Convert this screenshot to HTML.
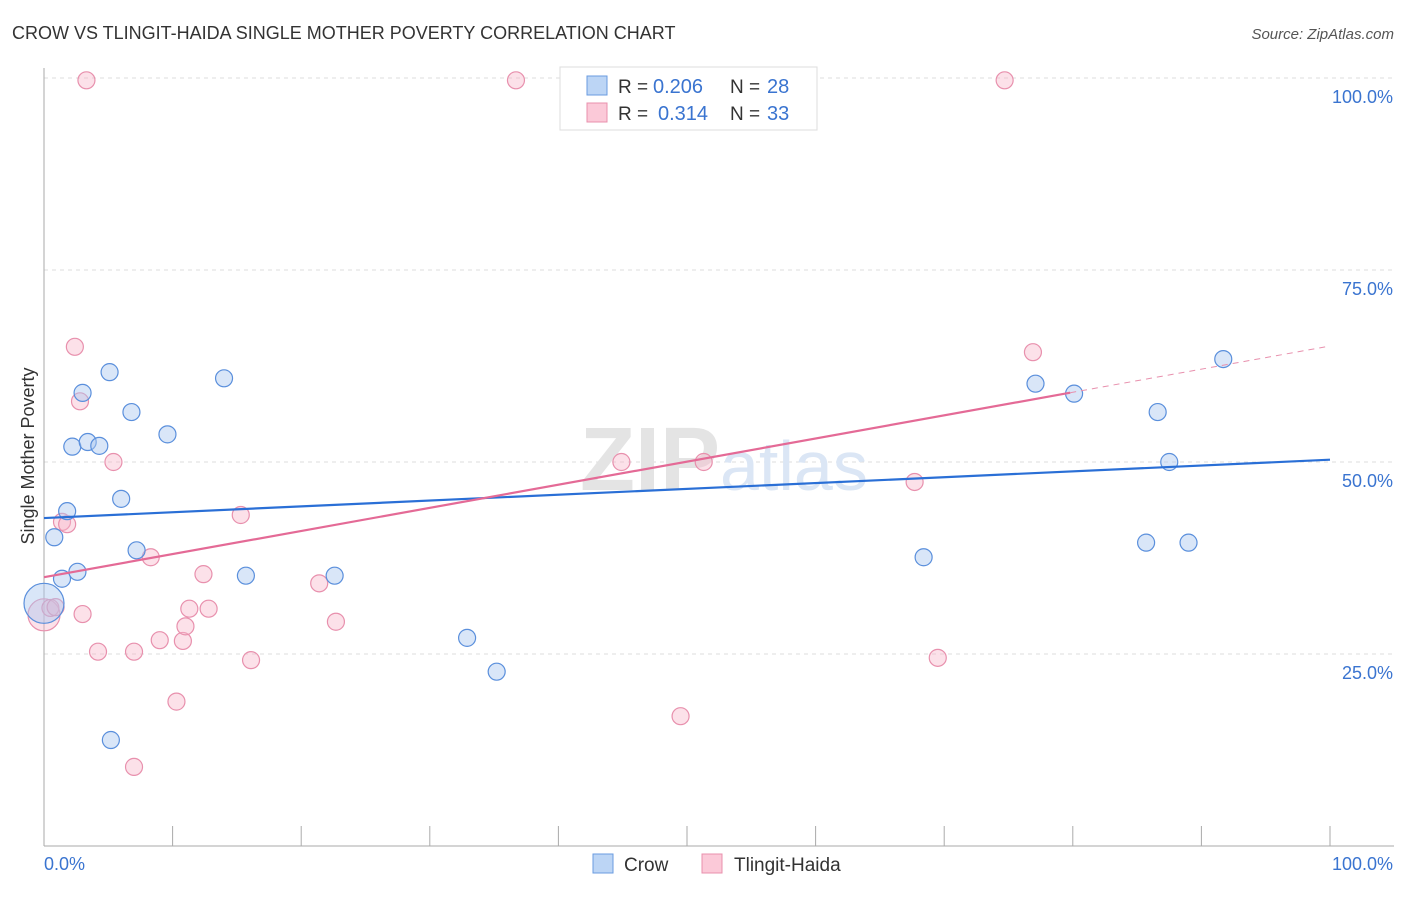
<!DOCTYPE html>
<html><head><meta charset="utf-8"><style>
body{margin:0;background:#fff;font-family:"Liberation Sans",sans-serif;}
svg text{font-family:"Liberation Sans",sans-serif;}
</style></head><body>
<svg id="chart" width="1406" height="892" xmlns="http://www.w3.org/2000/svg">
<text x="12" y="39" font-size="18" fill="#333">CROW VS TLINGIT-HAIDA SINGLE MOTHER POVERTY CORRELATION CHART</text>
<text x="1394" y="39" font-size="15" fill="#555" text-anchor="end" font-style="italic">Source: ZipAtlas.com</text>
<g id="grid"></g>
<text x="720" y="490" font-size="90" fill="#e4e4e4" text-anchor="end" font-family="Liberation Serif" font-weight="bold">ZIP</text>
<text x="720" y="490" font-size="70" fill="#dbe6f5">atlas</text>
<g id="points"></g>
<g id="lines"></g>
<text transform="translate(34,456) rotate(-90)" font-size="18" fill="#333" text-anchor="middle">Single Mother Poverty</text>
<g>
<rect x="560" y="67" width="257" height="63" fill="#fff" stroke="#ddd"/>
<rect x="587" y="76" width="20" height="19" fill="#bcd5f5" stroke="#6a9be0"/>
<rect x="587" y="103" width="20" height="19" fill="#fbc9d8" stroke="#e890ad"/>
<text x="618" y="93" font-size="19" fill="#333">R =</text>
<text x="653" y="93" font-size="20" fill="#3a74d0">0.206</text>
<text x="730" y="93" font-size="19" fill="#333">N =</text>
<text x="767" y="93" font-size="20" fill="#3a74d0">28</text>
<text x="618" y="120" font-size="19" fill="#333">R =</text>
<text x="658" y="120" font-size="20" fill="#3a74d0">0.314</text>
<text x="730" y="120" font-size="19" fill="#333">N =</text>
<text x="767" y="120" font-size="20" fill="#3a74d0">33</text>
</g>
<g>
<rect x="593" y="854" width="20" height="19" fill="#bcd5f5" stroke="#6a9be0"/>
<text x="624" y="871" font-size="19" fill="#333">Crow</text>
<rect x="702" y="854" width="20" height="19" fill="#fbc9d8" stroke="#e890ad"/>
<text x="734" y="871" font-size="19" fill="#333">Tlingit-Haida</text>
</g>
</svg>
<script>
const yTicks=[25,50,75,100];
const yTickLabels=["25.0%","50.0%","75.0%","100.0%"];
const crowX=[0,0.8,1.4,1.8,2.2,2.6,3.0,3.4,4.3,5.1,5.2,6.0,6.8,7.2,9.6,14.0,15.7,22.6,32.9,35.2,68.4,77.1,80.1,85.7,86.6,87.5,89.0,91.7];
const crowY=[31.6,40.2,34.8,43.6,52.0,35.7,59.0,52.6,52.1,61.7,13.8,45.2,56.5,38.5,53.6,60.9,35.2,35.2,27.1,22.7,37.6,60.2,58.9,39.5,56.5,50.0,39.5,63.4];
const tlX=[0,0.5,0.9,1.4,1.8,2.4,2.8,3.0,3.3,4.2,5.4,7.0,7.0,8.3,9.0,10.3,10.8,11.0,11.3,12.4,12.8,15.3,16.1,21.4,22.7,36.7,44.9,49.5,51.3,67.7,69.5,74.7,76.9];
const tlY=[30.1,31.0,31.1,42.2,41.9,65.0,57.9,30.2,99.7,25.3,50.0,25.3,10.3,37.6,26.8,18.8,26.7,28.6,30.9,35.4,30.9,43.1,24.2,34.2,29.2,99.7,50.0,16.9,50.0,47.4,24.5,99.7,64.3];
const crowTrend=[42.7,50.3];
const tlTrend=[35.0,65.1];
const tlSolidEnd=79.8;
const NS="http://www.w3.org/2000/svg";
const X=v=>44+v/100*1286, Y=v=>846-v/100*768;
function mk(t,a,p){const e=document.createElementNS(NS,t);for(const k in a)e.setAttribute(k,a[k]);p.appendChild(e);return e;}
const grid=document.getElementById('grid');
yTicks.forEach((t,i)=>{
 const l=mk('line',{x1:44,x2:1394,y1:Y(t),y2:Y(t),stroke:'#ddd','stroke-dasharray':'4,4'},grid);
 
 
 const tx=mk('text',{x:1393,y:Y(t)+25,'font-size':18,fill:'#3a74d0','text-anchor':'end'},grid);
 tx.textContent=yTickLabels[i];
 
 
});
const ax=mk('line',{x1:44,x2:44,y1:68,y2:846,stroke:'#aaa'},grid);


const xa=mk('line',{x1:44,x2:1394,y1:846,y2:846,stroke:'#aaa'},grid);


for(let i=0;i<=10;i++){const tk=mk('line',{x1:X(i*10),x2:X(i*10),y1:826,y2:846,stroke:'#aaa'},grid);
 
 }
[["0.0%",44,'start'],["100.0%",1393,'end']].forEach(a=>{const t=mk('text',{x:a[1],y:870,'font-size':18,fill:'#3a74d0','text-anchor':a[2]},grid);t.textContent=a[0];
 
 });
const pts=document.getElementById('points');
tlX.forEach((x,i)=>{const c=mk('circle',{cx:X(x),cy:Y(tlY[i]),r:i==0?16:8.5,fill:'rgba(248,180,200,0.4)',stroke:'#e890ad','stroke-width':1.2},pts);
 
 });
crowX.forEach((x,i)=>{const c=mk('circle',{cx:X(x),cy:Y(crowY[i]),r:i==0?20:8.5,fill:'rgba(170,200,240,0.45)',stroke:'#5a8fdc','stroke-width':1.2},pts);
 
 });
const ln=document.getElementById('lines');
const b=mk('line',{x1:X(0),y1:Y(crowTrend[0]),x2:X(100),y2:Y(crowTrend[1]),stroke:'#2a6fd6','stroke-width':2.2},ln);


const tm=tlTrend[0]+(tlTrend[1]-tlTrend[0])*tlSolidEnd/100;
const p=mk('line',{x1:X(0),y1:Y(tlTrend[0]),x2:X(tlSolidEnd),y2:Y(tm),stroke:'#e46a96','stroke-width':2.2},ln);


const pd=mk('line',{x1:X(tlSolidEnd),y1:Y(tm),x2:X(100),y2:Y(tlTrend[1]),stroke:'#e890ad','stroke-width':1,'stroke-dasharray':'6,5'},ln);


</script>
</body></html>
